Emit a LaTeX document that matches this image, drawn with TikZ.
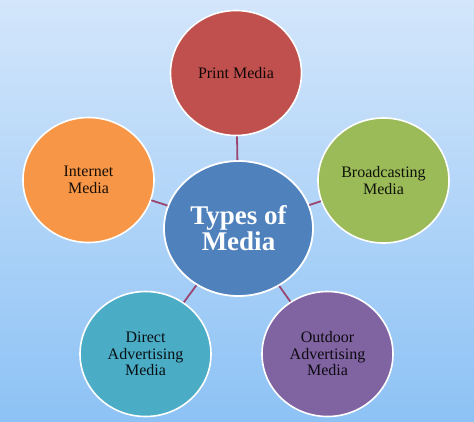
\documentclass[tikz,border=0pt]{standalone}
\usepackage{fontspec}
\setmainfont{Liberation Serif}
\usetikzlibrary{shapes.geometric}
\definecolor{bgtop}{HTML}{D3E6FB}
\definecolor{bgbot}{HTML}{8DC2F5}
\definecolor{cmain}{HTML}{4F81BD}
\definecolor{cprint}{HTML}{C0504D}
\definecolor{cbroad}{HTML}{9BBB59}
\definecolor{cout}{HTML}{8064A2}
\definecolor{cdirect}{HTML}{4BACC6}
\definecolor{cnet}{HTML}{F79646}
\definecolor{cline}{HTML}{9A4670}
\begin{document}
\begin{tikzpicture}[x=1pt,y=-1pt,
  bubble/.style={ellipse, draw=white, line width=1.6pt, inner sep=0pt,
    minimum width=131pt, minimum height=125pt, align=center,
    text=black, text opacity=0.9,
    font=\fontsize{16}{16.5}\selectfont},
  hub/.style={ellipse, draw=white, line width=1.8pt, fill=cmain, inner sep=0pt,
    minimum width=149pt, minimum height=135pt, align=center,
    text=white, font=\fontsize{27}{26}\selectfont\bfseries},
  conn/.style={draw=cline, line width=1.8pt}]
\shade[top color=bgtop, bottom color=bgbot] (0,0) rectangle (474,421);
\useasboundingbox (0,0) rectangle (474,421);
\node[hub] (c) at (238.5,228.5) {Types of\\Media};
\node[bubble, fill=cprint] (p) at (236,73) {Print Media};
\node[bubble, fill=cnet] (i) at (88.5,180) {Internet\\Media};
\node[bubble, fill=cbroad] (b) at (383.5,180.5) {Broadcasting\\Media};
\node[bubble, fill=cdirect] (d) at (145.5,354) {Direct\\Advertising\\Media};
\node[bubble, fill=cout] (o) at (327.5,354) {Outdoor\\Advertising\\Media};
\draw[conn] (c) -- (p);
\draw[conn] (c) -- (i);
\draw[conn] (c) -- (b);
\draw[conn] (c) -- (d);
\draw[conn] (c) -- (o);
\end{tikzpicture}
\end{document}
